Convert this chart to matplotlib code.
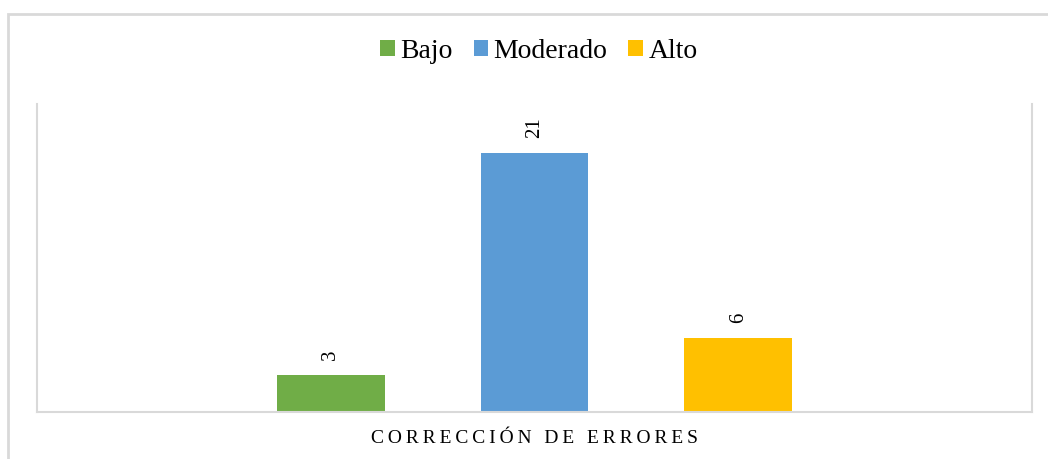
import matplotlib.pyplot as plt
import matplotlib.patches as mpatches

# Data
categoria = "CORRECCIÓN DE ERRORES"
niveles = ["Bajo", "Moderado", "Alto"]
valores = [3, 21, 6]
colores = ["#70AD47", "#5B9BD5", "#FFC000"]

plt.rcParams["font.family"] = ["Liberation Serif", "DejaVu Serif"]

fig = plt.figure(figsize=(10.48, 4.59), dpi=100)
ax = fig.add_axes([37 / 1048, 1 - 412 / 459, 995 / 1048, 308 / 459])

# outer chart frame (cropped at right and bottom in the reference)
frame = mpatches.Rectangle((8 / 1048, -0.05), 1.1, 1 - 14 / 459 + 0.05,
                           transform=fig.transFigure, fill=False,
                           edgecolor="#D9D9D9", linewidth=2, clip_on=False)
fig.patches.append(frame)

ancho = 0.1085
paso = 0.205
for i, (nivel, v, c) in enumerate(zip(niveles, valores, colores)):
    x = (i - 1) * paso
    ax.bar(x, v, width=ancho, color=c, label=nivel, zorder=2)
    ax.annotate(str(v), (x, v), xytext=(0, 11), textcoords="offset points",
                rotation=90, ha="center", va="bottom", fontsize=15)

ax.set_xlim(-0.5, 0.5)
ax.set_ylim(0, 25)
ax.set_yticks([])
ax.set_xticks([0])
ax.set_xticklabels(["\u2009".join(categoria)], fontsize=14)
ax.tick_params(axis="x", length=0, pad=13)
for s in ["left", "right", "bottom"]:
    ax.spines[s].set_color("#D9D9D9")
    ax.spines[s].set_linewidth(1.5)
ax.spines["top"].set_visible(False)

fig.legend(loc="center", bbox_to_anchor=(539 / 1048, 1 - 51 / 459), ncol=3,
           frameon=False, fontsize=20, handlelength=0.52, handleheight=0.52,
           handletextpad=0.2, columnspacing=0.75)

fig.savefig("out.png", dpi=100)
